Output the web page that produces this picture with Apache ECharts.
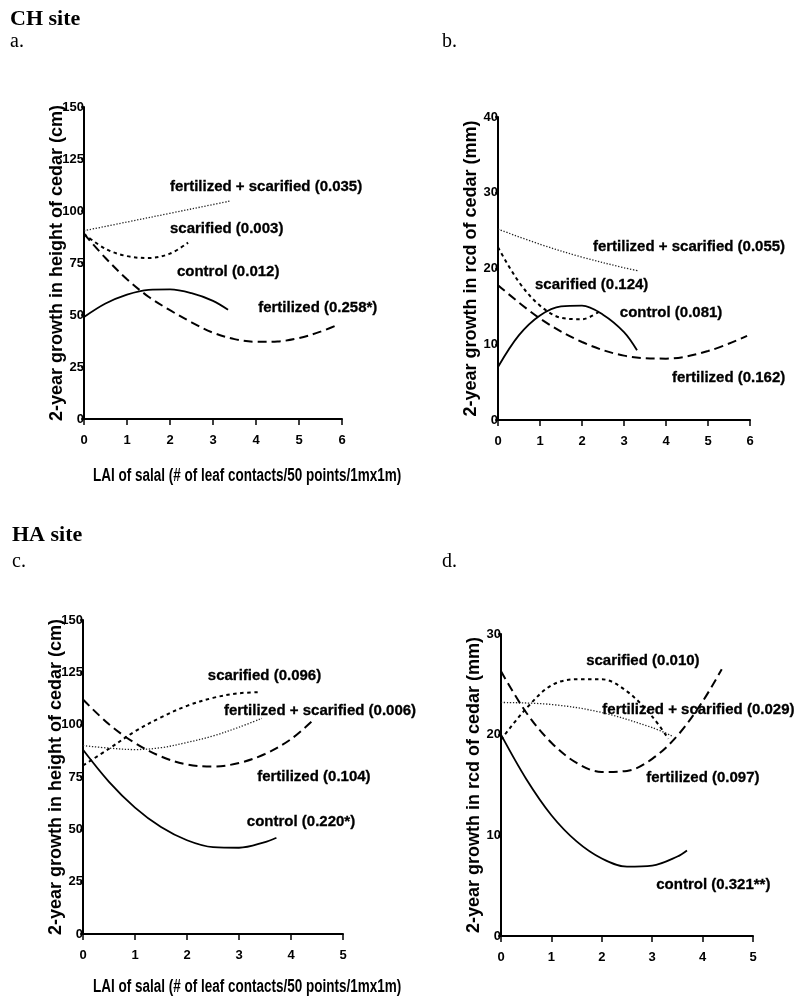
<!DOCTYPE html>
<html><head><meta charset="utf-8">
<script src="https://cdn.jsdelivr.net/npm/echarts@6/dist/echarts.min.js"></script>
<style>html,body{margin:0;padding:0;background:#fff}#c{width:798px;height:999px}</style>
</head><body><div id="c"></div>
<script>
// ---------- DATA ----------
// Panel a: CH site, height growth (cm)
const aFertScarX = [0, 1, 2, 3, 3.4];
const aFertScarY = [90.5, 94.7, 98.9, 103.1, 104.8];
const aScarX = [0, 0.5, 1, 1.5, 2, 2.42];
const aScarY = [89, 81.8, 78.3, 77.4, 79.5, 84.8];
const aCtrlX = [0, 0.5, 1, 1.5, 2, 2.5, 3, 3.35];
const aCtrlY = [49, 55.5, 59.8, 62.1, 62.3, 60.5, 56.8, 52.5];
const aFertX = [0, 0.5, 1, 1.5, 2, 2.5, 3, 3.5, 4, 4.5, 5, 5.5, 5.9];
const aFertY = [89, 77.4, 67.2, 58.8, 52.3, 46.5, 41.5, 38.4, 37.1, 37.3, 38.9, 42.0, 45.3];
const aLabels = ['fertilized + scarified (0.035)', 'scarified (0.003)', 'control (0.012)', 'fertilized (0.258*)'];
const aLabelX = [2.0, 2.0, 2.16, 4.05];
const aLabelY = [111.5, 91.3, 70.7, 53.4];

// Panel b: CH site, rcd growth (mm)
const bFertScarX = [0, 1, 2, 3, 3.33];
const bFertScarY = [25.2, 23.2, 21.5, 20.1, 19.7];
const bScarX = [0, 0.5, 1, 1.5, 2, 2.43];
const bScarY = [22.8, 18.2, 15.1, 13.5, 13.3, 14.4];
const bCtrlX = [0, 0.5, 1, 1.5, 2, 2.5, 3, 3.31];
const bCtrlY = [7, 11.2, 13.8, 15, 15.1, 13.9, 11.6, 9.2];
const bFertX = [0, 1, 2, 3, 4, 5, 5.93];
const bFertY = [17.8, 13.4, 10.3, 8.5, 8.1, 9.1, 11.1];
const bLabels = ['fertilized + scarified (0.055)', 'scarified (0.124)', 'control (0.081)', 'fertilized (0.162)'];
const bLabelX = [2.26, 0.88, 2.9, 4.14];
const bLabelY = [22.8, 17.9, 14.1, 5.6];

// Panel c: HA site, height growth (cm)
const cScarX = [0, 0.5, 1, 1.5, 2, 2.5, 3, 3.4];
const cScarY = [80.5, 88.5, 96.8, 103.5, 109, 112.8, 115, 115.5];
const cFertScarX = [0, 0.5, 1, 1.5, 2, 2.5, 3, 3.44];
const cFertScarY = [90, 88.8, 88.1, 89, 91.5, 94.6, 98.8, 103];
const cFertX = [0, 0.5, 1, 1.5, 2, 2.5, 3, 3.5, 4, 4.42];
const cFertY = [112, 100.2, 91.2, 84.8, 81, 80, 81.7, 86, 93.1, 102];
const cCtrlX = [0, 0.5, 1, 1.5, 2, 2.5, 3, 3.5, 3.72];
const cCtrlY = [88, 72.7, 60.4, 51.1, 44.8, 41.5, 41.2, 43.9, 46];
const cLabels = ['scarified (0.096)', 'fertilized + scarified (0.006)', 'fertilized (0.104)', 'control (0.220*)'];
const cLabelX = [2.4, 2.71, 3.35, 3.15];
const cLabelY = [123.4, 106.7, 75.1, 53.6];

// Panel d: HA site, rcd growth (mm)
const dScarX = [0, 0.5, 1, 1.5, 2, 2.5, 3, 3.32];
const dScarY = [19.5, 22.6, 24.9, 25.5, 25.5, 24.3, 21.8, 19.6];
const dFertScarX = [0, 1, 2, 3, 3.42];
const dFertScarY = [23.2, 23, 22.2, 20.7, 19.8];
const dFertX = [0, 0.5, 1, 1.5, 2, 2.5, 3, 3.5, 4, 4.38];
const dFertY = [26.3, 22.2, 19.2, 17.2, 16.3, 16.4, 17.6, 19.9, 23.3, 26.5];
const dCtrlX = [0, 0.5, 1, 1.5, 2, 2.5, 3, 3.5, 3.69];
const dCtrlY = [20, 15.6, 12, 9.4, 7.7, 6.9, 7.0, 7.9, 8.5];
const dLabels = ['scarified (0.010)', 'fertilized + scarified (0.029)', 'fertilized (0.097)', 'control (0.321**)'];
const dLabelX = [1.69, 2.01, 2.88, 3.08];
const dLabelY = [27.3, 22.5, 15.7, 5.1];

// Axes
const xMax = [6, 6, 5, 5];
const yMax = [150, 40, 150, 30];
const yStep = [25, 10, 25, 10];
const yTitles = ['2-year growth in height of cedar (cm)', '2-year growth in rcd of cedar (mm)',
                 '2-year growth in height of cedar (cm)', '2-year growth in rcd of cedar (mm)'];
const xTitle = 'LAI of salal (# of leaf contacts/50 points/1mx1m)';
const siteTitles = ['CH site', 'HA site'];
const panelTags = ['a.', 'b.', 'c.', 'd.'];

// ---------- CHART ----------
const SANS = "'Liberation Sans', Arial, Helvetica, sans-serif";
const SERIF = "'Liberation Serif', 'Times New Roman', serif";
const INK = '#000';

const styles = {
  ctrl: { type: 'solid', width: 1.8, color: INK, opacity: 1 },
  fert: { type: [9, 5], width: 2, color: INK, opacity: 1 },
  scar: { type: [3.5, 3.5], width: 2, color: INK, opacity: 1 },
  fs:   { type: [1.3, 1.7], width: 1.3, color: '#222', opacity: 1 }
};
const zip = (xs, ys) => xs.map((x, i) => [x, ys[i]]);

const grids = [
  { left: 84, top: 107, width: 258, height: 312 },
  { left: 498, top: 117, width: 252, height: 303 },
  { left: 83, top: 620, width: 260, height: 314 },
  { left: 501, top: 634, width: 252, height: 302 }
];

const xAxes = xMax.map((m, i) => ({
  type: 'value', gridIndex: i, min: 0, max: m, interval: 1,
  axisLine: { show: true, onZero: false, lineStyle: { color: INK, width: 2 } },
  axisTick: { show: true, inside: false, length: 6, lineStyle: { color: INK, width: 1.5 } },
  axisLabel: { show: true, margin: 15, fontSize: 13, fontWeight: 'bold', color: INK, fontFamily: SANS },
  splitLine: { show: false }
}));
const yAxes = yMax.map((m, i) => ({
  type: 'value', gridIndex: i, min: 0, max: m, interval: yStep[i],
  axisLine: { show: true, onZero: false, lineStyle: { color: INK, width: 2 } },
  axisTick: { show: true, inside: false, length: 3, lineStyle: { color: INK, width: 1.5 } },
  axisLabel: { show: true, margin: 0, fontSize: 13, fontWeight: 'bold', color: INK, fontFamily: SANS },
  splitLine: { show: false },
  name: yTitles[i], nameLocation: 'middle', nameRotate: 90, nameGap: 18,
  nameMoveOverlap: false,
  nameTextStyle: { fontSize: 18, fontWeight: 'bold', color: INK, fontFamily: SANS }
}));

function line(i, xs, ys, st) {
  return {
    type: 'line', xAxisIndex: i, yAxisIndex: i, data: zip(xs, ys),
    smooth: 0.35, symbol: 'none', lineStyle: st, silent: true, animation: false
  };
}
function labels(i, names, xs, ys) {
  return {
    type: 'scatter', xAxisIndex: i, yAxisIndex: i, symbolSize: 0, silent: true, animation: false,
    itemStyle: { opacity: 1 },
    data: names.map((n, k) => ({ name: n, value: [xs[k], ys[k]] })),
    label: { show: true, position: 'right', distance: 0, formatter: '{b}', opacity: 1,
             fontSize: 15, fontWeight: 'bold', color: INK, fontFamily: SANS,
             textBorderColor: INK, textBorderWidth: 0.3 }
  };
}

const series = [
  line(0, aFertScarX, aFertScarY, styles.fs),
  line(0, aScarX, aScarY, styles.scar),
  line(0, aCtrlX, aCtrlY, styles.ctrl),
  line(0, aFertX, aFertY, styles.fert),
  labels(0, aLabels, aLabelX, aLabelY),
  line(1, bFertScarX, bFertScarY, styles.fs),
  line(1, bScarX, bScarY, styles.scar),
  line(1, bCtrlX, bCtrlY, styles.ctrl),
  line(1, bFertX, bFertY, styles.fert),
  labels(1, bLabels, bLabelX, bLabelY),
  line(2, cScarX, cScarY, styles.scar),
  line(2, cFertScarX, cFertScarY, styles.fs),
  line(2, cFertX, cFertY, styles.fert),
  line(2, cCtrlX, cCtrlY, styles.ctrl),
  labels(2, cLabels, cLabelX, cLabelY),
  line(3, dScarX, dScarY, styles.scar),
  line(3, dFertScarX, dFertScarY, styles.fs),
  line(3, dFertX, dFertY, styles.fert),
  line(3, dCtrlX, dCtrlY, styles.ctrl),
  labels(3, dLabels, dLabelX, dLabelY)
];

function txt(x, y, text, size, weight, family, sx) {
  return { type: 'text', x: x, y: y, scaleX: sx || 1, silent: true,
    style: { text: text, fontSize: size, fontWeight: weight, fontFamily: family, fill: '#000',
             verticalAlign: 'top', align: 'left' } };
}

const graphic = [
  txt(10, 8, siteTitles[0], 22, 'bold', SERIF),
  txt(10, 32, panelTags[0], 20, 'normal', SERIF),
  txt(442, 32, panelTags[1], 20, 'normal', SERIF),
  txt(12, 524, siteTitles[1], 22, 'bold', SERIF),
  txt(12, 552, panelTags[2], 20, 'normal', SERIF),
  txt(442, 552, panelTags[3], 20, 'normal', SERIF),
  txt(93, 467, xTitle, 18, 'bold', SANS, 0.75),
  txt(93, 978, xTitle, 18, 'bold', SANS, 0.75)
];

const chart = echarts.init(document.getElementById('c'), null, { renderer: 'canvas' });
chart.setOption({
  backgroundColor: '#fff',
  animation: false,
  grid: grids.map(g => Object.assign({ containLabel: false }, g)),
  xAxis: xAxes,
  yAxis: yAxes,
  series: series,
  graphic: graphic
});
</script></body></html>
